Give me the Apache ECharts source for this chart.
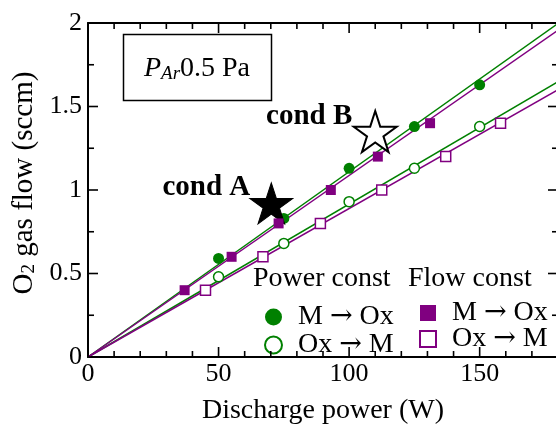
<!DOCTYPE html>
<html>
<head>
<meta charset="utf-8">
<style>html,body{margin:0;padding:0;background:#fff;}#c{width:556px;height:424px;}</style>
<script src="https://cdn.jsdelivr.net/npm/echarts@6/dist/echarts.min.js"></script>
</head>
<body>
<div id="c"></div>
<script>
// ---- data ----
const powerMOxX = [50, 75, 100, 125, 150];
const powerMOxY = [0.59, 0.83, 1.13, 1.38, 1.63];
const powerOxMX = [50, 75, 100, 125, 150];
const powerOxMY = [0.48, 0.68, 0.93, 1.13, 1.38];
const flowMOxX = [37, 55, 73, 93, 111, 131];
const flowMOxY = [0.4, 0.6, 0.8, 1.0, 1.2, 1.4];
const flowOxMX = [45, 67, 89, 112.5, 137, 158];
const flowOxMY = [0.4, 0.6, 0.8, 1.0, 1.2, 1.4];
// fitted lines (start, end)
const fitPowerMOx = [[0, 0], [180, 1.997]];
const fitPowerOxM = [[0, 0], [180, 1.649]];
const fitFlowMOx = [[0, 0], [180, 1.957]];
const fitFlowOxM = [[0, 0], [180, 1.600]];
// conditions
const condA = [70.2, 0.92];
const condB = [110, 1.35];
// axes
const X_MIN = 0, X_MAX = 180, Y_MIN = 0, Y_MAX = 2;
const xTicks = [0, 50, 100, 150];
const xMinorTicks = [10, 20, 30, 40, 60, 70, 80, 90, 110, 120, 130, 140, 160, 170];
const yTicks = [0, 0.5, 1, 1.5, 2];
const yMinorTicks = [0.25, 0.75, 1.25, 1.75];

const GREEN = '#008000';
const PURPLE = '#800080';
const FONT = 'Liberation Serif';
const zip = (xs, ys) => xs.map((x, i) => [x, ys[i]]);
const STAR = 'path://M50,0 L61.2,34.5 L97.6,34.5 L68.2,55.9 L79.4,90.5 L50,69.1 L20.6,90.5 L31.8,55.9 L2.4,34.5 L38.8,34.5 Z';

// tick marks on all four sides: [direction (0 = x, 1 = y), value, length]
const tickData = []
  .concat(xTicks.map(v => [0, v, 10]))
  .concat(xMinorTicks.map(v => [0, v, 6]))
  .concat(yTicks.map(v => [1, v, 10]))
  .concat(yMinorTicks.map(v => [1, v, 6]));

const chart = echarts.init(document.getElementById('c'), null, {renderer: 'canvas'});

const axisLineStyle = () => ({show: true, onZero: false, lineStyle: {color: '#000', width: 2}});

const legendRich = {
  t: {fontFamily: FONT, fontSize: 28, color: '#000'},
  a: {fontFamily: 'DejaVu Serif', fontSize: 27, color: '#000'}
};
const legendFmt = n => {
  const parts = n.split(': ')[1].split(' → ');
  return '{t|' + parts[0] + ' }{a|→}{t| ' + parts[1] + '}';
};

const TW = 1.6; // tick thickness
const option = {
  animation: false,
  backgroundColor: '#fff',
  grid: {left: 88, right: -2, top: 23, bottom: 67, outerBoundsMode: 'none'},
  xAxis: [
    {
      type: 'value', min: X_MIN, max: X_MAX, interval: 50, position: 'bottom',
      splitLine: {show: false}, axisLine: axisLineStyle(), axisTick: {show: false},
      name: 'Discharge power (W)', nameLocation: 'middle', nameGap: 40,
      nameTextStyle: {fontFamily: FONT, fontSize: 28, color: '#000'},
      axisLabel: {
        fontFamily: FONT, fontSize: 26, color: '#000', margin: 4, showMaxLabel: false,
        formatter: v => (xTicks.indexOf(v) >= 0 ? String(v) : '')
      }
    },
    {
      type: 'value', min: X_MIN, max: X_MAX, interval: 50, position: 'top',
      splitLine: {show: false}, axisLine: axisLineStyle(), axisTick: {show: false},
      axisLabel: {show: false}
    }
  ],
  yAxis: [
    {
      type: 'value', min: Y_MIN, max: Y_MAX, interval: 0.5, position: 'left',
      splitLine: {show: false}, axisLine: axisLineStyle(), axisTick: {show: false},
      name: '{n|O}{s|2}{n| gas flow (sccm)}', nameLocation: 'middle', nameGap: 44, nameRotate: 90,
      nameTextStyle: {
        fontFamily: FONT, fontSize: 28, color: '#000', padding: [0, 0, 0, 14],
        rich: {
          n: {fontFamily: FONT, fontSize: 29, color: '#000', lineHeight: 29, verticalAlign: 'top'},
          s: {fontFamily: FONT, fontSize: 19, color: '#000', lineHeight: 19, verticalAlign: 'bottom', padding: [14, 0, 0, 0]}
        }
      },
      axisLabel: {
        fontFamily: FONT, fontSize: 26, color: '#000', margin: 6,
        formatter: v => (yTicks.indexOf(v) >= 0 ? String(v) : '')
      }
    },
    {
      type: 'value', min: Y_MIN, max: Y_MAX, interval: 0.5, position: 'right',
      splitLine: {show: false}, axisLine: axisLineStyle(), axisTick: {show: false},
      axisLabel: {show: false}
    }
  ],
  legend: [
    {
      orient: 'vertical', left: 259, top: 298, itemGap: 0,
      itemWidth: 17, itemHeight: 17,
      textStyle: {fontFamily: FONT, fontSize: 28, color: '#000', padding: [0, 0, 0, 11], rich: legendRich},
      formatter: legendFmt,
      data: [{name: 'Power: M → Ox', icon: 'circle'}, {name: 'Power: Ox → M', icon: 'circle'}]
    },
    {
      orient: 'vertical', left: 414, top: 294, itemGap: -2,
      itemWidth: 16, itemHeight: 16,
      textStyle: {fontFamily: FONT, fontSize: 28, color: '#000', padding: [0, 0, 0, 11], rich: legendRich},
      formatter: legendFmt,
      data: [{name: 'Flow: M → Ox', icon: 'rect'}, {name: 'Flow: Ox → M', icon: 'rect'}]
    }
  ],
  graphic: [
    {
      type: 'rect', z: 10,
      shape: {x: 123.5, y: 34.5, width: 148, height: 66},
      style: {fill: 'none', stroke: '#000', lineWidth: 1.5}
    },
    {
      type: 'text', z: 10,
      style: {
        x: 197, y: 69, align: 'center', verticalAlign: 'middle',
        text: '{p|P}{s|Ar}{n|0.5 Pa}',
        rich: {
          p: {fontFamily: FONT, fontSize: 28, fontStyle: 'italic', fill: '#000', lineHeight: 28, verticalAlign: 'top'},
          s: {fontFamily: FONT, fontSize: 19, fontStyle: 'italic', fill: '#000', lineHeight: 19, verticalAlign: 'bottom', padding: [14, 0, 0, 0]},
          n: {fontFamily: FONT, fontSize: 28, fill: '#000', lineHeight: 28, verticalAlign: 'top'}
        }
      }
    },
    {
      type: 'text', z: 10,
      style: {x: 253, y: 279, verticalAlign: 'middle', text: 'Power const', font: '28px "Liberation Serif"', fill: '#000'}
    },
    {
      type: 'text', z: 10,
      style: {x: 408, y: 279, verticalAlign: 'middle', text: 'Flow const', font: '28px "Liberation Serif"', fill: '#000'}
    }
  ],
  series: [
    {
      type: 'custom', name: 'ticks', z: 6, data: tickData,
      renderItem: (params, api) => {
        const dir = api.value(0), v = api.value(1), len = api.value(2);
        const st = {fill: '#000'};
        if (dir === 0) {
          const a = api.coord([v, Y_MIN]);
          const b = api.coord([v, Y_MAX]);
          return {type: 'group', children: [
            {type: 'rect', shape: {x: a[0] - TW / 2, y: a[1] - len, width: TW, height: len}, style: st},
            {type: 'rect', shape: {x: b[0] - TW / 2, y: b[1], width: TW, height: len}, style: st}
          ]};
        }
        const a = api.coord([X_MIN, v]);
        const b = api.coord([X_MAX, v]);
        return {type: 'group', children: [
          {type: 'rect', shape: {x: a[0], y: a[1] - TW / 2, width: len, height: TW}, style: st},
          {type: 'rect', shape: {x: b[0] - len, y: b[1] - TW / 2, width: len, height: TW}, style: st}
        ]};
      }
    },
    {type: 'line', name: 'fit1', data: fitPowerMOx, showSymbol: false, z: 1,
      lineStyle: {color: GREEN, width: 1.5}},
    {type: 'line', name: 'fit2', data: fitPowerOxM, showSymbol: false, z: 1,
      lineStyle: {color: GREEN, width: 1.5}},
    {type: 'line', name: 'fit3', data: fitFlowMOx, showSymbol: false, z: 1,
      lineStyle: {color: PURPLE, width: 1.5}},
    {type: 'line', name: 'fit4', data: fitFlowOxM, showSymbol: false, z: 1,
      lineStyle: {color: PURPLE, width: 1.5}},
    {type: 'scatter', name: 'Power: M → Ox', data: zip(powerMOxX, powerMOxY), symbol: 'circle', symbolSize: 11, z: 3,
      itemStyle: {color: GREEN, opacity: 1}},
    {type: 'scatter', name: 'Power: Ox → M', data: zip(powerOxMX, powerOxMY), symbol: 'circle', symbolSize: 10, z: 3,
      itemStyle: {color: '#fff', borderColor: GREEN, borderWidth: 1.5, opacity: 1}},
    {type: 'scatter', name: 'stars', data: [
        {value: condA, itemStyle: {color: '#000', borderColor: '#000', borderWidth: 1, opacity: 1},
          label: {show: true, formatter: 'cond A', offset: [-65, -16]}},
        {value: condB, itemStyle: {color: '#fff', borderColor: '#000', borderWidth: 2, opacity: 1},
          label: {show: true, formatter: 'cond B', offset: [-66, -15]}}
      ],
      symbol: STAR, symbolSize: [43, 41], symbolKeepAspect: false, z: 4,
      label: {position: 'inside', fontFamily: FONT, fontSize: 29, fontWeight: 'bold', color: '#000'}
    },
    {type: 'scatter', name: 'Flow: M → Ox', data: zip(flowMOxX, flowMOxY), symbol: 'rect', symbolSize: 10, z: 5,
      itemStyle: {color: PURPLE, opacity: 1}},
    {type: 'scatter', name: 'Flow: Ox → M', data: zip(flowOxMX, flowOxMY), symbol: 'rect', symbolSize: 10, z: 5,
      itemStyle: {color: '#fff', borderColor: PURPLE, borderWidth: 1.5, opacity: 1}}
  ]
};
chart.setOption(option);
</script>
</body>
</html>
